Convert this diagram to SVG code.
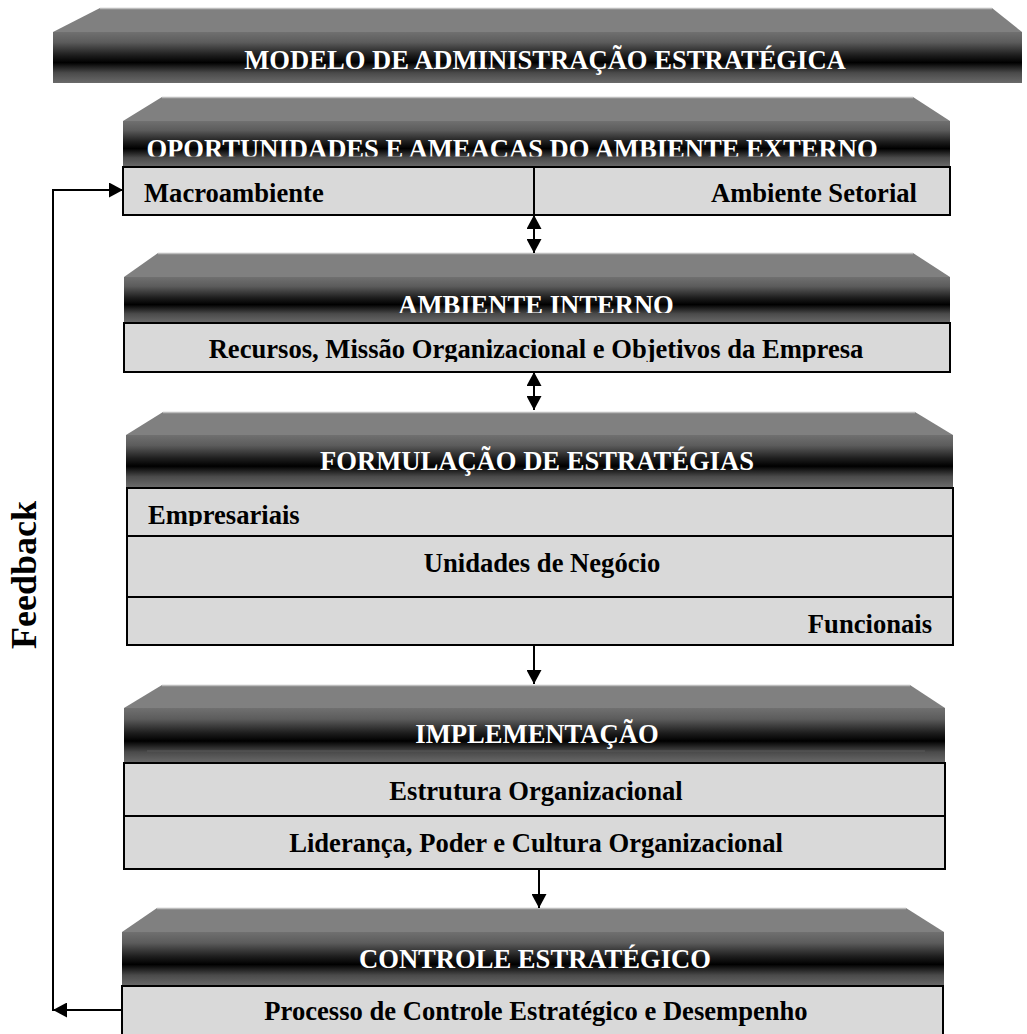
<svg xmlns="http://www.w3.org/2000/svg" width="1027" height="1034" viewBox="0 0 1027 1034">
<style>
.bevel{fill:#808080;stroke:none}
.edge{stroke:#bdbdbd;stroke-width:1.5;fill:none}
.band{fill:url(#bandGrad)}
.row{fill:#d9d9d9;stroke:#000;stroke-width:2}
.ht{font-family:"Liberation Serif","Times New Roman",serif;font-weight:bold;font-size:26.6px;fill:#fff;text-anchor:middle}
.rt{font-family:"Liberation Serif","Times New Roman",serif;font-weight:bold;font-size:26.6px;fill:#000}
.mid{text-anchor:middle}
.end{text-anchor:end}
.con{stroke:#000;stroke-width:2;fill:none}
</style>
<defs>
<linearGradient id="bandGrad" x1="0" y1="0" x2="0" y2="1">
<stop offset="0" stop-color="#707070"/>
<stop offset="0.2" stop-color="#5c5c5c"/>
<stop offset="0.45" stop-color="#1e1e1e"/>
<stop offset="0.6" stop-color="#000"/>
<stop offset="0.8" stop-color="#4a4a4a"/>
<stop offset="1" stop-color="#6a6a6a"/>
</linearGradient>
<marker id="ah" viewBox="0 0 14 15" refX="14" refY="7.5" markerWidth="14" markerHeight="15" markerUnits="userSpaceOnUse" orient="auto-start-reverse">
<path d="M0,0 L14,7.5 L0,15 z" fill="#000"/>
</marker>
<clipPath id="c1"><rect x="100" y="120" width="850" height="36.5"/></clipPath>
<clipPath id="c2"><rect x="100" y="280" width="850" height="33"/></clipPath>
<clipPath id="c3"><rect x="100" y="325" width="850" height="37"/></clipPath>
<clipPath id="c4"><rect x="100" y="490" width="850" height="36"/></clipPath>
</defs>

<g id="title">
<polygon class="bevel" points="53,32 100,8 992,8 1022,32"/>
<line class="edge" x1="100" y1="8.5" x2="992" y2="8.5"/>
<rect class="band" x="53" y="32" width="969" height="51"/>
<text class="ht" x="545" y="69">MODELO DE ADMINISTRAÇÃO ESTRATÉGICA</text>
</g>

<g id="ambiente-externo">
<polygon class="bevel" points="123,121 162,97 913,97 950,121"/>
<line class="edge" x1="162" y1="97.5" x2="913" y2="97.5"/>
<rect class="band" x="123" y="121" width="827" height="46"/>
<text class="ht" x="512" y="157.5" clip-path="url(#c1)">OPORTUNIDADES E AMEACAS DO AMBIENTE EXTERNO</text>
<rect class="row" x="123" y="167" width="827" height="48"/>
<line class="con" x1="534" y1="167" x2="534" y2="215"/>
<text class="rt" x="144" y="202">Macroambiente</text>
<text class="rt end" x="917" y="202">Ambiente Setorial</text>
</g>

<g id="ambiente-interno">
<polygon class="bevel" points="124,277 158,253 913,253 950,277"/>
<line class="edge" x1="158" y1="253.5" x2="913" y2="253.5"/>
<rect class="band" x="124" y="277" width="826" height="46"/>
<text class="ht" x="536" y="314" clip-path="url(#c2)">AMBIENTE INTERNO</text>
<rect class="row" x="124" y="323" width="826" height="49"/>
<text class="rt mid" x="536" y="358" clip-path="url(#c3)">Recursos, Missão Organizacional e Objetivos da Empresa</text>
</g>

<g id="formulacao">
<polygon class="bevel" points="126,435 163,412 915,412 953,435"/>
<line class="edge" x1="163" y1="412.5" x2="915" y2="412.5"/>
<rect class="band" x="126" y="435" width="827" height="52"/>
<text class="ht" x="537" y="470">FORMULAÇÃO DE ESTRATÉGIAS</text>
<rect class="row" x="127" y="488" width="826" height="48"/>
<rect class="row" x="127" y="536" width="826" height="61"/>
<rect class="row" x="127" y="597" width="826" height="48"/>
<text class="rt" x="148" y="524" clip-path="url(#c4)">Empresariais</text>
<text class="rt mid" x="542" y="572">Unidades de Negócio</text>
<text class="rt end" x="932" y="633">Funcionais</text>
</g>

<g id="implementacao">
<polygon class="bevel" points="124,708 162,685 910,685 945,708"/>
<line class="edge" x1="162" y1="685.5" x2="910" y2="685.5"/>
<rect class="band" x="124" y="708" width="821" height="55"/>
<line x1="147" y1="751" x2="925" y2="751" stroke="#5a5a5a" stroke-width="1"/>
<text class="ht" x="537" y="743">IMPLEMENTAÇÃO</text>
<rect class="row" x="124" y="763" width="821" height="53"/>
<rect class="row" x="124" y="816" width="821" height="53"/>
<text class="rt mid" x="536" y="800">Estrutura Organizacional</text>
<text class="rt mid" x="536" y="852">Liderança, Poder e Cultura Organizacional</text>
</g>

<g id="controle">
<polygon class="bevel" points="122,932 157,908 906,908 944,932"/>
<line class="edge" x1="157" y1="908.5" x2="906" y2="908.5"/>
<rect class="band" x="122" y="932" width="822" height="54"/>
<text class="ht" x="535" y="968">CONTROLE ESTRATÉGICO</text>
<rect class="row" x="122" y="986" width="821" height="60"/>
<text class="rt mid" x="536" y="1020">Processo de Controle Estratégico e Desempenho</text>
</g>

<g id="feedback-label">
<text class="rt mid" transform="translate(36,575) rotate(-90)" style="font-size:36px">Feedback</text>
</g>

<g id="connectors">
<line class="con" x1="534" y1="215" x2="534" y2="253" marker-start="url(#ah)" marker-end="url(#ah)"/>
<line class="con" x1="534" y1="372" x2="534" y2="410" marker-start="url(#ah)" marker-end="url(#ah)"/>
<line class="con" x1="534" y1="646" x2="534" y2="684" marker-end="url(#ah)"/>
<line class="con" x1="539" y1="870" x2="539" y2="908" marker-end="url(#ah)"/>
<line class="con" x1="121" y1="1010" x2="53" y2="1010" marker-end="url(#ah)"/>
<path class="con" d="M53,1011 V190 H123" marker-end="url(#ah)"/>
</g>
</svg>
